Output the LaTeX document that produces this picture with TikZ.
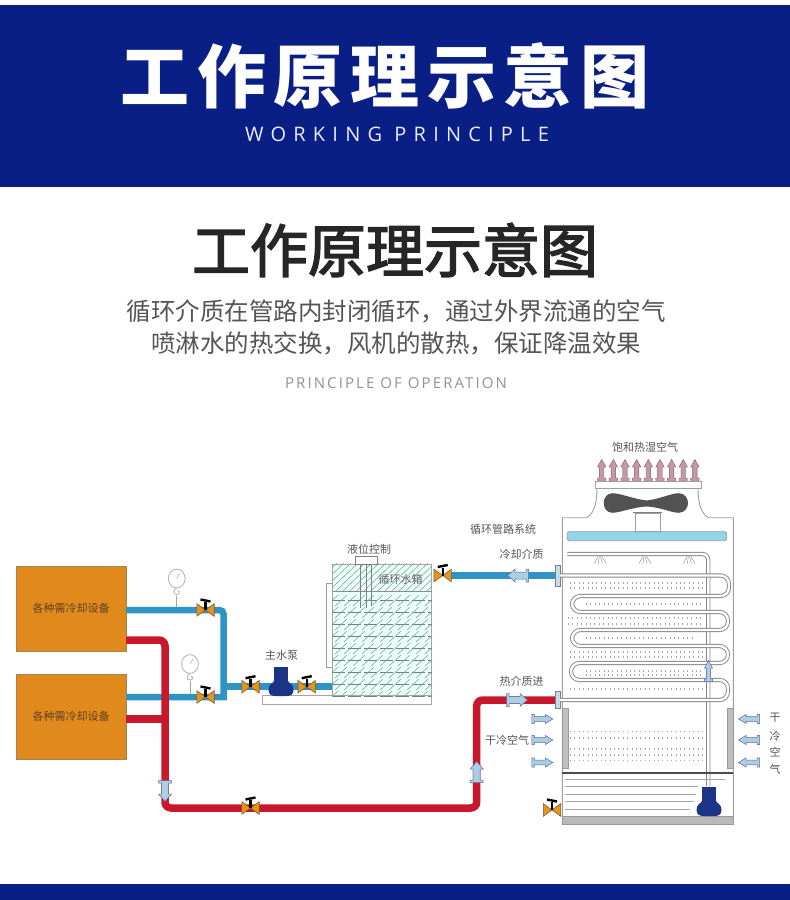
\documentclass[tikz,border=0pt]{standalone}
\usepackage{fontspec}
\setmainfont{Noto Sans CJK SC}
\newfontfamily\bannerfont[LetterSpace=11]{Noto Sans CJK SC}
\newfontfamily\midfont[FakeBold=2.6]{Noto Sans CJK SC}
\newfontfamily\wordfont[LetterSpace=36]{Open Sans}
\newfontfamily\thinfont[LetterSpace=14]{Open Sans}
\definecolor{navyband}{HTML}{0A1F85}
\definecolor{boxorange}{HTML}{E08A1E}
\definecolor{coldblue}{HTML}{2F93C6}
\definecolor{hotred}{HTML}{C9182B}
\definecolor{pumpblue}{HTML}{1C3488}
\definecolor{flowblue}{HTML}{A9CFE4}
\definecolor{hatchgreen}{HTML}{7FA99B}
\definecolor{labelgray}{HTML}{555555}
\tikzset{
  coldpipe/.style={draw=coldblue,line width=6.5pt},
  hotpipe/.style={draw=hotred,line width=7.5pt},
  tube/.style={draw=gray!95,line width=.9pt,double=white,double distance=2.4pt},
  plant/.style={draw=gray!75,line width=.9pt},
  dotrow/.style={draw=gray!70,line width=1.1pt,dash pattern=on 1pt off 3.4pt},
  flange/.style={draw=gray,fill=flowblue!70,minimum width=5pt,inner sep=0pt},
  equip/.style={draw=brown!70!gray,fill=boxorange,minimum width=110pt,minimum height=85pt,inner sep=0pt,font=\fontsize{11}{12}\selectfont,text=brown!50!black},
  tag/.style={inner sep=0pt,text=labelgray,font=\fontsize{11}{12}\selectfont},
  flowtip/.style={fill=flowblue,draw=gray!80!blue,line width=.5pt},
  pinktip/.style={fill=purple!30!gray!60,draw=purple!40!gray,line width=.4pt,yscale=.65},
  pics/valve/.style={code={
    \draw[fill=boxorange!90!yellow,draw=brown!70!black,line width=.6pt] (-8.7,-6.3)--(0,0)--(-8.7,6.3)--cycle (8.7,-6.3)--(0,0)--(8.7,6.3)--cycle;
    \draw[black,line width=2.4pt] (0,0)--(0,-8);
    \draw[black,line width=2.4pt] (-5,-10.5)--(5,-8.5);}},
  pics/flow/.style={code={
    \path[pic actions] (-10.5,-6.5)--(-8,-6.5)--(-8,-3.5)--(3,-3.5)--(3,-6.5)--(10.5,0)--(3,6.5)--(3,3.5)--(-8,3.5)--(-8,6.5)--(-10.5,6.5)--cycle;}},
  pics/pump/.style={code={
    \fill[pumpblue] (-7,-29) rectangle (7,-11);
    \fill[pumpblue] (-7,-15) .. controls (-8,-12.5) and (-12.5,-12) .. (-12.5,-6) .. controls (-12.5,-1) and (-9,0) .. (-5,0) -- (5,0) .. controls (9,0) and (12.5,-1) .. (12.5,-6) .. controls (12.5,-12) and (8,-12.5) .. (7,-15) --cycle;}},
  pics/gauge/.style={code={
    \draw[gray!60,line width=.8pt,fill=white] (0,0) ellipse (8.4 and 9.4);
    \draw[gray!60,line width=.6pt] (0,0)--(3,-5);
    \draw[gray!60,line width=.8pt] (0,9.4) .. controls (-4,12) and (-3.5,16) .. (0,16) .. controls (3,16) and (3.5,13) .. (1,12);}}
}
\begin{document}
\begin{tikzpicture}[x=1pt,y=-1pt]
\useasboundingbox[fill=white] (0,0) rectangle (790,900);
\fill[navyband] (0,5) rectangle (790,187);\fill[navyband] (0,884) rectangle (790,900);
\node[inner sep=0pt,text=white,font=\bannerfont\bfseries\fontsize{69}{72}\selectfont] (bannerTitle) at (385,76) {工作原理示意图};
\node[inner sep=0pt,text=white!92!blue,font=\wordfont\fontsize{20}{22}\selectfont] (bannerWord) at (397,134) {WORKING PRINCIPLE};
\node[inner sep=0pt,text=black!85,font=\midfont\fontsize{58}{60}\selectfont] (mainTitle) at (395,250) {工作原理示意图};
\node[inner sep=0pt,text=labelgray,font=\fontsize{24.5}{26}\selectfont] (descA) at (396,311) {循环介质在管路内封闭循环，通过外界流通的空气};
\node[inner sep=0pt,text=labelgray,font=\fontsize{24.5}{26}\selectfont] (descB) at (396,343) {喷淋水的热交换，风机的散热，保证降温效果};
\node[inner sep=0pt,text=gray!85,font=\thinfont\fontsize{15}{17}\selectfont] (descWord) at (396,383) {PRINCIPLE OF OPERATION};

\node[equip] (boxA) at (71,608.5) {\raisebox{-3pt}{各种需冷却设备}};
\node[equip] (boxB) at (71,716.5) {各种需冷却设备};
\draw[draw=gray!70,line width=.8pt,fill=white] (262.3,695.6) rectangle (431.7,704);
\draw[plant,fill=white] (326.7,583) rectangle (332.7,667);
\node[draw=gray!70,fill=green!25!cyan!7,line width=.8pt,minimum width=99pt,minimum height=131.6pt,inner sep=0pt] (tank) at (382.2,629.8) {};
\begin{scope}
\clip (tank.north west) rectangle (tank.south east);
\foreach \x in {0,7,...,231}{\draw[hatchgreen,line width=.6pt] ({300+\x},591.7)--({300+\x+30},563);}
\foreach \y in {600,612,...,696}{
  \draw[hatchgreen!80!black,line width=.8pt,dash pattern=on 13pt off 3pt] (332,\y)--(432,\y);
  \foreach \x in {0,9,...,117}{\draw[hatchgreen,line width=.6pt] ({326+\x},\y+6)--({326+\x+12},\y-5);}
}
\draw[gray!90,line width=.8pt] (332.7,591.7)--(431.7,591.7);
\end{scope}
\node[draw=gray,fill=white,minimum width=22.3pt,minimum height=7.3pt,inner sep=0pt] (levelBox) at (366.2,560.3) {};
\draw[gray,line width=.6pt] (360.7,564)--(360.7,608) (366.7,564)--(366.7,608) (371.7,564)--(371.7,606);
\node[tag] (levelTag) at (369,549) {液位控制};
\node[tag,text=black!60] (tankTag) at (400.7,579) {循环水箱};
\node[tag] (pumpTag) at (281.7,655) {主水泵};
\node[tag] (loopTag) at (503,529) {循环管路系统};
\node[tag] (coldTag) at (521.7,554) {冷却介质};
\node[tag] (hotTag) at (521.7,681.7) {热介质进};
\node[tag] (dryTag) at (507,740) {干冷空气};
\node[tag] (topTag) at (645,447) {饱和热湿空气};
\node[tag] (sideA) at (775,718) {干};
\node[tag] (sideB) at (775,736) {冷};
\node[tag] (sideC) at (775,752) {空};
\node[tag] (sideD) at (775,769) {气};

\coordinate (jA) at (223.5,610);\coordinate (jB) at (223.5,697);\coordinate (jC) at (226,686.7);
\coordinate (jD) at (165,640);\coordinate (jE) at (165,808);\coordinate (jF) at (476.7,808);\coordinate (jG) at (476.7,700);\coordinate (jH) at (165,719);
\node[flange,minimum height=21pt] (flgC) at (557.5,575.5) {};
\node[flange,minimum height=17pt] (flgH) at (557.5,700) {};
\pic (gaugeA) at (176.7,578.5) {gauge};
\pic (gaugeB) at (190,664) {gauge};
\draw[gray!70,line width=.9pt] (176.7,596)--(176.7,610) (190,681)--(190,697);
\draw[coldpipe,rounded corners=4pt] (boxA.east |- jA)--(jA)[sharp corners]--(jB)--(boxB.east |- jB);
\draw[coldpipe] (jC)--(tank.west |- jC);
\draw[coldpipe] (450,575.5)--(flgC.west);
\draw[hotpipe,rounded corners=6pt] (boxA.east |- jD)--(jD)--(jE)--(jF)--(jG)--(flgH.west);
\draw[hotpipe] (boxB.east |- jH)--(jH);
\foreach \n/\x/\y in {vlvA/205.5/610,vlvB/205.5/697}{\pic (\n) at (\x,\y) {valve};}
\foreach \n/\x/\y in {vlvC/250.5/686.7,vlvD/306.7/686.7,vlvE/250.5/808,vlvF/442.7/575.5}{\pic[xscale=-1] (\n) at (\x,\y) {valve};}
\pic (vlvG) at (552,810) {valve};
\pic (pumpA) at (281,696) {pump};
\pic[flowtip,rotate=-90] (flowA) at (165,791) {flow};
\pic[flowtip,rotate=90] (flowB) at (476.7,772) {flow};
\pic[flowtip,rotate=180] (flowC) at (518,575.5) {flow};
\pic[flowtip] (flowD) at (517,700) {flow};
\foreach \y in {719,740,762.5}{\pic[flowtip,yscale=.7] at (542.3,\y) {flow};\pic[flowtip,rotate=180,yscale=.7] at (749,\y) {flow};}
\foreach \i in {0,...,8}{\pic[rotate=90,pinktip] at ({601.7+\i*11.65},470) {flow};}

\draw[plant] (597,488) .. controls (597,505) and (593,515) .. (586,517.7)--(562.3,517.7)--(562.3,824.3)--(733.3,824.3)--(733.3,517.7)--(709,517.7) .. controls (702,515) and (698,505) .. (698,488);
\draw[plant,fill=white] (595.7,481.7) rectangle (701.7,488);
\fill[black!68] (646.7,500.5) .. controls (660,499) and (672,493) .. (679,493.2) .. controls (691,494) and (691,512) .. (679,512.8) .. controls (672,513) and (660,507) .. (646.7,506.5) .. controls (633,507) and (620,512.8) .. (612,512.8) .. controls (601,512) and (601,494) .. (612,493.2) .. controls (620,493) and (633,499) .. (646.7,500.5);
\draw[plant,fill=white] (635,513) rectangle (660,531.7);
\draw[gray,line width=1pt] (633,512)--(662,512);
\draw[draw=gray!80,fill=flowblue!85!cyan,rounded corners=2pt,line width=.7pt] (567.3,531.7) rectangle (726.7,540.7);
\draw[tube,rounded corners=6pt] (567.3,554)--(708.3,554)--(708.3,786);
\foreach \x in {599.3,644,688.3}{\foreach \d in {-1,0,1,2}{\draw[gray!80,line width=.5pt] ({\x+\d*1.2},556.5)--({\x-1+\d*4},563.5);}}
\foreach \y/\xa/\xb in {583/570/704,588/570/704,604/586/704,618/568/704,624/568/704,638/586/696,652/570/704,657/570/704,671/586/704,675/586/704,689/570/704,731.7/570/704,738/570/704,749/570/704,755/570/704,760.7/570/704}{\draw[dotrow] (\xa,\y)--(\xb,\y);}
\draw[tube,rounded corners=8.5pt] (flgC.east)--(729,575.5)--(729,596)--(572,596)--(572,612)--(728,612)--(728,630)--(572,630)--(572,646)--(728,646)--(728,663)--(571,663)--(571,680)--(728,680)--(728,700)--(flgH.east);
\pic[flowtip,rotate=90,yscale=.62] (flowE) at (708.5,671) {flow};
\foreach \xa/\xb in {562.3/568.3,727.7/733.7}{\draw[draw=gray!80,fill=gray!50,line width=.5pt] (\xa,708.5) rectangle (\xb,768);}
\draw[black!70,line width=1.8pt] (562.3,773.3)--(733.3,773.3);
\foreach \y/\xb in {779/725,786/698,794/696,801.7/694,809/690}{\draw[gray!70,line width=.9pt] (565,\y)--(\xb,\y);}
\draw[draw=gray!80,fill=gray!55,line width=.6pt] (562.3,816.7) rectangle (733.3,824.3);
\pic (pumpB) at (709,816) {pump};
\end{tikzpicture}
\end{document}
